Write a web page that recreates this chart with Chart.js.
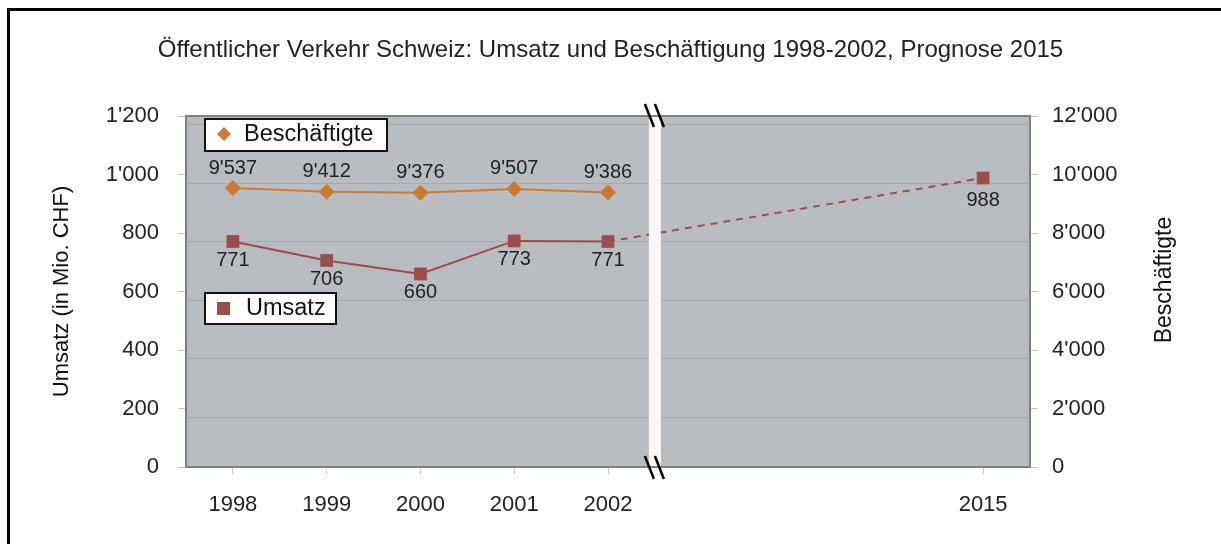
<!DOCTYPE html>
<html>
<head>
<meta charset="utf-8">
<script src="https://cdn.jsdelivr.net/npm/chart.js@4"></script>
<style>
  html, body { margin: 0; padding: 0; background: #fff; }
  #wrap { width: 1221px; height: 544px; position: relative; }
</style>
</head>
<body>
<div id="wrap"><canvas id="chart"></canvas></div>
<script>
// Werte aus der Grafik
const years = ['1998', '1999', '2000', '2001', '2002', '', '', '', '2015'];
const umsatz = [771, 706, 660, 773, 771, null, null, null, null];
const prognose = [null, null, null, null, 771, null, null, null, 988];
const beschaeftigte = [9537, 9412, 9376, 9507, 9386, null, null, null, null];
const umsatzTicks = [0, 200, 400, 600, 800, 1000, 1200];
const beschTicks = [0, 2000, 4000, 6000, 8000, 10000, 12000];

const ORANGE = '#c97b32';
const RED = '#9b4d4d';
const FONT = "'Liberation Sans', Arial, sans-serif";

function fmt(v) {
    return String(v).replace(/\B(?=(\d{3})+(?!\d))/g, "'");
}

// Hintergrund, Gitter, Rahmen, Bruch, Legenden, Beschriftungen
const decor = {
    id: 'decor',
    beforeDatasetsDraw(chart) {
        const { ctx, chartArea: a, scales } = chart;
        ctx.save();
        ctx.fillStyle = '#b9bdc1';
        ctx.fillRect(a.left, a.top, a.right - a.left, a.bottom - a.top);
        ctx.strokeStyle = '#a6aaae';
        ctx.lineWidth = 1;
        umsatzTicks.forEach(v => {
            if (v === 0) return;
            const y = Math.round(scales.y.getPixelForValue(v) + 8) + 0.5;
            ctx.beginPath();
            ctx.moveTo(a.left, y);
            ctx.lineTo(a.right, y);
            ctx.stroke();
        });
        ctx.strokeStyle = '#7d8285';
        ctx.lineWidth = 2;
        ctx.strokeRect(a.left, a.top, a.right - a.left, a.bottom - a.top);
        ctx.restore();
    },
    afterDatasetsDraw(chart) {
        const { ctx, chartArea: a, scales } = chart;
        ctx.save();

        // Datenbeschriftungen
        ctx.font = '20px ' + FONT;
        ctx.fillStyle = '#222';
        ctx.textAlign = 'center';
        ctx.textBaseline = 'middle';
        beschaeftigte.forEach((v, i) => {
            if (v == null) return;
            ctx.fillText(fmt(v), scales.x.getPixelForValue(i), scales.y1.getPixelForValue(v) - 20);
        });
        umsatz.forEach((v, i) => {
            if (v == null) return;
            ctx.fillText(fmt(v), scales.x.getPixelForValue(i), scales.y.getPixelForValue(v) + 19);
        });
        ctx.fillText(fmt(prognose[8]), scales.x.getPixelForValue(8), scales.y.getPixelForValue(prognose[8]) + 22);

        // Achsenbruch
        const bx = (scales.x.getPixelForValue(4) + scales.x.getPixelForValue(5)) / 2;
        ctx.fillStyle = '#f8f8f8';
        ctx.fillRect(bx - 6, a.top + 1, 12, a.bottom - a.top - 2);
        ctx.strokeStyle = '#000';
        ctx.lineWidth = 2.5;
        [a.top - 12, a.bottom - 11].forEach(y0 => {
            [-6, 4].forEach(dx => {
                ctx.beginPath();
                ctx.moveTo(bx + dx - 4, y0);
                ctx.lineTo(bx + dx + 5, y0 + 23);
                ctx.stroke();
            });
        });

        // Legenden
        ctx.lineWidth = 2;
        ctx.strokeStyle = '#111';
        ctx.fillStyle = '#fff';
        ctx.fillRect(205, 119, 182, 32);
        ctx.strokeRect(205, 119, 182, 32);
        ctx.fillRect(205, 293, 131, 31);
        ctx.strokeRect(205, 293, 131, 31);

        ctx.fillStyle = ORANGE;
        ctx.beginPath();
        ctx.moveTo(224, 127);
        ctx.lineTo(231, 134);
        ctx.lineTo(224, 141);
        ctx.lineTo(217, 134);
        ctx.closePath();
        ctx.fill();
        ctx.fillStyle = RED;
        ctx.fillRect(217, 302, 13, 13);

        ctx.fillStyle = '#111';
        ctx.font = '23.5px ' + FONT;
        ctx.textAlign = 'left';
        ctx.fillText('Beschäftigte', 244, 135);
        ctx.fillText('Umsatz', 246, 309);

        // Achsentitel
        ctx.font = '22px ' + FONT;
        ctx.textAlign = 'center';
        ctx.save();
        ctx.translate(62, (a.top + a.bottom) / 2);
        ctx.rotate(-Math.PI / 2);
        ctx.fillText('Umsatz (in Mio. CHF)', 0, 0);
        ctx.restore();
        ctx.font = '23px ' + FONT;
        ctx.save();
        ctx.translate(1165, 280);
        ctx.rotate(-Math.PI / 2);
        ctx.fillText('Beschäftigte', 0, 0);
        ctx.restore();

        // Rahmen
        ctx.strokeStyle = '#000';
        ctx.lineWidth = 3;
        ctx.beginPath();
        ctx.moveTo(8.5, 544);
        ctx.lineTo(8.5, 9.5);
        ctx.lineTo(1221, 9.5);
        ctx.stroke();
        ctx.restore();
    }
};

const ctx = document.getElementById('chart').getContext('2d');
new Chart(ctx, {
    type: 'line',
    data: {
        labels: years,
        datasets: [{
            label: 'Beschäftigte',
            data: beschaeftigte,
            yAxisID: 'y1',
            borderColor: ORANGE,
            backgroundColor: ORANGE,
            borderWidth: 2,
            pointStyle: 'rectRot',
            pointRadius: 8,
            pointBorderWidth: 0,
            tension: 0
        }, {
            label: 'Umsatz',
            data: umsatz,
            yAxisID: 'y',
            borderColor: RED,
            backgroundColor: RED,
            borderWidth: 2,
            pointStyle: 'rect',
            pointRadius: 9,
            pointBorderWidth: 0,
            tension: 0
        }, {
            label: 'Prognose',
            data: prognose,
            yAxisID: 'y',
            borderColor: RED,
            backgroundColor: RED,
            borderWidth: 2,
            borderDash: [7, 6],
            spanGaps: true,
            pointStyle: 'rect',
            pointRadius: [0, 0, 0, 0, 0, 0, 0, 0, 9],
            pointBorderWidth: 0,
            tension: 0
        }]
    },
    options: {
        responsive: true,
        maintainAspectRatio: false,
        animation: false,
        layout: { padding: 0 },
        plugins: {
            legend: { display: false },
            tooltip: { enabled: false },
            title: {
                display: true,
                text: 'Öffentlicher Verkehr Schweiz: Umsatz und Beschäftigung 1998-2002, Prognose 2015',
                color: '#222',
                font: { family: FONT, size: 24, weight: 'normal', lineHeight: 1.2 },
                padding: { top: 36, bottom: 116 - 36 - 28.8 }
            }
        },
        scales: {
            x: {
                offset: true,
                border: { display: false },
                grid: {
                    drawOnChartArea: false,
                    tickLength: 7,
                    color: ctx => years[ctx.index] ? '#c8c8c8' : 'rgba(0,0,0,0)'
                },
                ticks: {
                    autoSkip: false,
                    maxRotation: 0,
                    color: '#222',
                    padding: 18,
                    font: { family: FONT, size: 22 }
                },
                afterFit: s => { s.height = 544 - 467; }
            },
            y: {
                position: 'left',
                min: 0,
                max: 1200,
                border: { display: false },
                grid: { drawOnChartArea: false, tickLength: 8, color: '#c8c8c8' },
                ticks: {
                    stepSize: 200,
                    color: '#222',
                    padding: 19,
                    font: { family: FONT, size: 22 },
                    callback: v => fmt(v)
                },
                afterFit: s => { s.width = 186; }
            },
            y1: {
                position: 'right',
                min: 0,
                max: 12000,
                border: { display: false },
                grid: { drawOnChartArea: false, tickLength: 8, color: '#c8c8c8' },
                ticks: {
                    stepSize: 2000,
                    color: '#222',
                    padding: 14,
                    font: { family: FONT, size: 22 },
                    callback: v => fmt(v)
                },
                afterFit: s => { s.width = 1221 - 1030; }
            }
        }
    },
    plugins: [decor]
});
</script>
</body>
</html>
